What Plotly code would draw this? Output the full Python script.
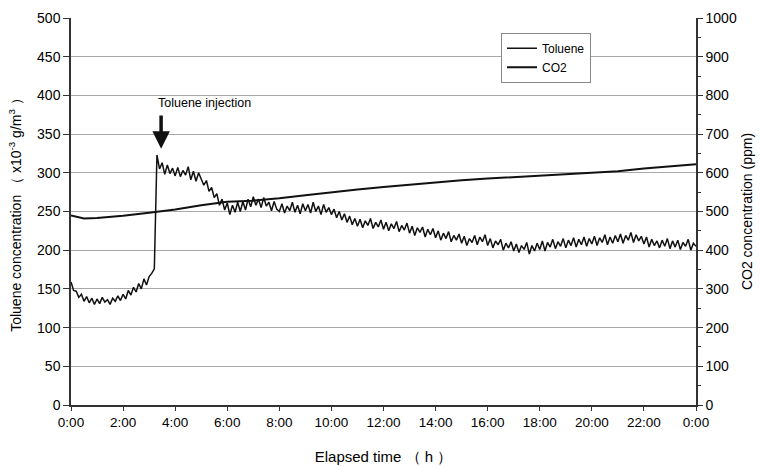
import plotly.graph_objects as go

# ---- data ----
# Toluene concentration (x10^-3 g/m3), sampled every 0.1 h from 0 to 24 h
toluene_step_h = 0.1
toluene = [
    # 0 h
    159, 148, 147, 139, 143, 134, 140, 132, 138, 130,
    # 1 h
    137, 131, 139, 133, 136, 130, 138, 134, 141, 135,
    # 2 h
    143, 137, 148, 142, 152, 146, 157, 150, 163, 155,
    # 3 h
    166, 170, 176, 323, 305, 313, 298, 310, 299, 306,
    # 4 h
    296, 307, 295, 303, 297, 308, 291, 302, 289, 300,
    # 5 h
    292, 284, 290, 276, 281, 268, 273, 258, 266, 252,
    # 6 h
    261, 246, 258, 249, 262, 250, 263, 252, 266, 256,
    # 7 h
    269, 258, 266, 255, 268, 257, 262, 251, 263, 253,
    # 8 h
    250, 260, 248, 257, 251, 262, 249, 258, 247, 260,
    # 9 h
    251, 259, 248, 262, 250, 257, 246, 259, 249, 255,
    # 10 h
    246, 253, 242, 250, 239, 247, 236, 244, 233, 241,
    # 11 h
    231, 240, 229, 238, 232, 241, 228, 236, 230, 239,
    # 12 h
    227, 236, 225, 234, 228, 237, 224, 232, 226, 235,
    # 13 h
    222, 231, 219, 229, 223, 230, 217, 227, 220, 228,
    # 14 h
    216, 225, 213, 222, 215, 224, 211, 219, 213, 221,
    # 15 h
    209, 218, 206, 215, 210, 219, 207, 217, 211, 220,
    # 16 h
    206, 215, 203, 212, 207, 214, 200, 209, 203, 211,
    # 17 h
    199, 208, 197, 206, 201, 210, 195, 206, 199, 209,
    # 18 h
    201, 212, 199, 210, 204, 214, 202, 211, 205, 215,
    # 19 h
    203, 213, 206, 216, 204, 214, 207, 217, 205, 215,
    # 20 h
    208, 218, 206, 216, 210, 220, 207, 217, 209, 219,
    # 21 h
    211, 221, 209, 219, 213, 223, 210, 220, 212, 218,
    # 22 h
    208, 217, 204, 214, 206, 212, 203, 213, 205, 215,
    # 23 h
    202, 212, 204, 213, 201, 210, 205, 214, 200, 209,
    # 24 h
    205,
]
toluene_time = [round(i * toluene_step_h, 1) for i in range(len(toluene))]

# CO2 concentration (ppm)
co2_time = [0, 0.5, 1, 1.5, 2, 3, 4, 5, 6, 7, 8, 9, 10, 11, 12, 13, 14, 15,
            16, 17, 18, 19, 20, 21, 22, 23, 24]
co2 = [490, 482, 483, 486, 489, 497, 505, 516, 525, 528, 534, 542, 550, 557,
       563, 569, 575, 581, 585, 589, 592, 595, 600, 604, 611, 617, 622]

x_tickvals = [0, 2, 4, 6, 8, 10, 12, 14, 16, 18, 20, 22, 24]
x_ticktext = ["0:00", "2:00", "4:00", "6:00", "8:00", "10:00", "12:00",
              "14:00", "16:00", "18:00", "20:00", "22:00", "0:00"]

injection_time = 3.46
injection_label = "Toluene injection"

FONT = "Liberation Sans, Arial, sans-serif"
AXC = "#333333"
TXT = "#000000"

fig = go.Figure()
fig.add_trace(go.Scatter(x=toluene_time, y=toluene, name="Toluene",
                         mode="lines", line=dict(color="#111111", width=1.5),
                         yaxis="y"))
fig.add_trace(go.Scatter(x=co2_time, y=co2, name="CO2",
                         mode="lines", line=dict(color="#111111", width=2),
                         yaxis="y2"))

# arrow
fig.add_annotation(x=injection_time, y=331, ax=injection_time, ay=376,
                   xref="x", yref="y", axref="x", ayref="y",
                   text="", showarrow=True, arrowhead=2, arrowsize=1,
                   arrowwidth=3.5, arrowcolor="#111111")
fig.add_annotation(x=3.27, y=390, xref="x", yref="y", text=injection_label,
                   showarrow=False, xanchor="left", yanchor="middle",
                   font=dict(family=FONT, size=12.5, color=TXT))

fig.update_layout(
    width=761, height=467,
    margin=dict(l=71, r=65, t=18, b=62, autoexpand=False),
    paper_bgcolor="white", plot_bgcolor="white",
    font=dict(family=FONT, size=14, color=TXT),
    showlegend=True,
    legend=dict(x=0.688, y=0.962, xanchor="left", yanchor="top",
                bgcolor="white", bordercolor="#888888", borderwidth=1,
                font=dict(family=FONT, size=12, color=TXT),
                itemwidth=30, tracegroupgap=0),
    xaxis=dict(range=[0, 24], tickvals=x_tickvals, ticktext=x_ticktext,
               showgrid=False, zeroline=False, showline=True,
               linecolor=AXC, linewidth=1.5, ticks="outside", ticklen=4,
               tickcolor=AXC, tickfont=dict(size=13.5), automargin=False,
               title=dict(text="Elapsed time （ h ）", font=dict(size=15),
                          standoff=23)),
    yaxis=dict(range=[0, 500], dtick=50, showgrid=True, gridcolor="#a8a8a8",
               gridwidth=1, zeroline=False, showline=True, linecolor=AXC,
               linewidth=1.5, ticks="outside", ticklen=6, tickcolor=AXC,
               tickfont=dict(size=14), automargin=False,
               title=dict(text="Toluene concentration （ x10<sup>-3</sup> g/m<sup>3</sup> ）",
                          font=dict(size=14), standoff=12)),
    yaxis2=dict(range=[0, 1000], dtick=100, overlaying="y", side="right",
                showgrid=False, zeroline=False, showline=True, linecolor=AXC,
                linewidth=1.5, ticks="outside", ticklen=5, tickcolor=AXC,
                tickfont=dict(size=14), automargin=False,
                minor=dict(ticks="outside", ticklen=3, dtick=50, tickcolor=AXC),
                title=dict(text="CO2 concentration (ppm)", font=dict(size=14),
                           standoff=6)),
)

fig.write_html("out.html", config={"displayModeBar": False},
               post_script="document.body.style.margin='0';")
